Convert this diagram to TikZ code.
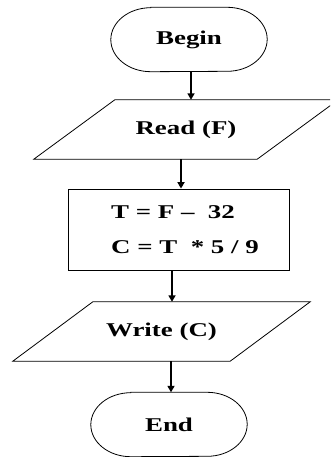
\documentclass[tikz,border=0pt]{standalone}
\usepackage{fontspec}
\setmainfont{Liberation Serif}
\usepackage{graphicx}
\usetikzlibrary{arrows.meta,calc}
% wide bold lettering used in every box
\newcommand{\wide}[1]{\scalebox{1.38}[1]{#1}}

\begin{document}
\begin{tikzpicture}[x=1pt,y=-1pt,
  outline/.style={draw=black,line width=0.8pt},
  txt/.style={font=\fontsize{19.5}{35}\selectfont\bfseries,inner sep=0pt},
  terminal/.style={rectangle,minimum width=156pt,minimum height=64pt,inner sep=0pt,txt},
  iobody/.style={rectangle,inner sep=0pt,minimum height=59pt,txt},
  process/.style={outline,rectangle,inner sep=0pt,minimum width=221pt,minimum height=81pt},
  flow/.style={line width=2.2pt,-{Triangle[length=6.5pt,width=7pt]}}]
\useasboundingbox (0,0) rectangle (330,457);
\clip (0,0) rectangle (330,457);

% start
\node[terminal] (begin) at (189,39.5) {\wide{Begin}};

% input
\node[iobody,minimum width=223pt] (read) at (186,129.5) {\wide{Read (F)}};

% computation
\node[process] (box) at (178.5,229.5) {};
\node[txt,align=left] (calc) at (185,229.5) {\wide{T = F --\ \ 32}\\\wide{C = T\ \ * 5 / 9}};

% output
\node[iobody,minimum width=217pt] (write) at (161.5,331.5) {\wide{Write (C)}};

% stop
\node[terminal] (end) at (169,424.5) {\wide{End}};

% terminals: flat top and bottom with elliptical ends
\foreach \n in {begin,end}
  \draw[outline] ($(\n.north west)+(40,0)$) -- ($(\n.north east)+(-40,0)$)
    arc[start angle=90,end angle=-90,x radius=40pt,y radius=32pt]
    -- ($(\n.south west)+(40,0)$)
    arc[start angle=270,end angle=90,x radius=40pt,y radius=32pt] -- cycle;

% slanted input/output outlines
\draw[outline] ($(read.north west)+(40.5,0)$) -- ($(read.north east)+(40.5,0)$)
  -- ($(read.south east)+(-40.5,0)$) -- ($(read.south west)+(-40.5,0)$) -- cycle;
\draw[outline] ($(write.north west)+(40,0)$) -- ($(write.north east)+(40,0)$)
  -- ($(write.south east)+(-40,0)$) -- ($(write.south west)+(-40,0)$) -- cycle;

% connectors
\draw[flow] ($(begin.south)+(2,0)$) -- ($(read.north)+(5,0)$);
\draw[flow] ($(read.south)+(-5,0)$) -- ($(box.north)+(2.5,0)$);
\draw[flow] ($(box.south)+(-6.5,0)$) -- ($(write.north)+(10.5,0)$);
\draw[flow] ($(write.south)+(9.5,0)$) -- ($(end.north)+(2,0)$);
\end{tikzpicture}
\end{document}
